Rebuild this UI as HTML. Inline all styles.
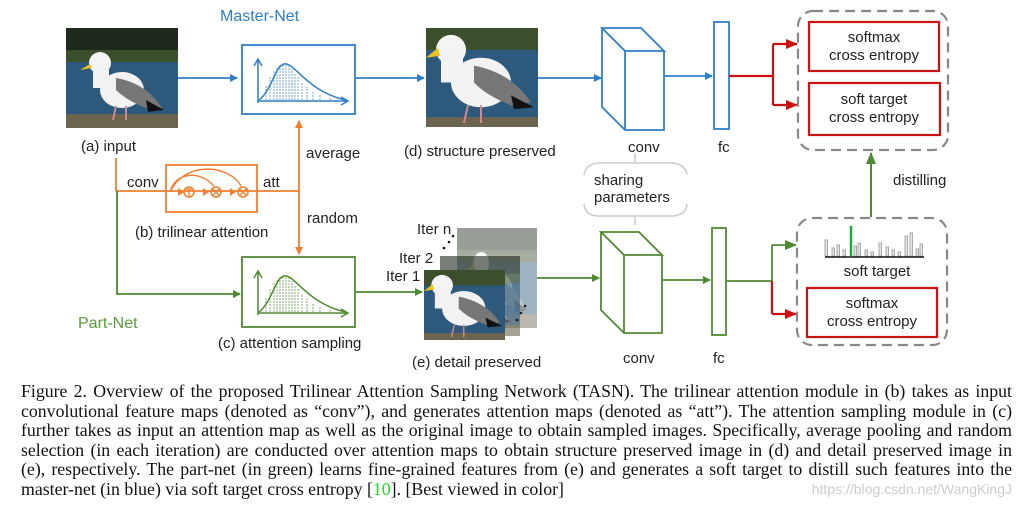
<!DOCTYPE html>
<html><head><meta charset="utf-8"><style>
html,body{margin:0;padding:0;background:#fff;width:1025px;height:516px;overflow:hidden}
svg{position:absolute;left:0;top:0}
svg text{font-family:"Liberation Sans",sans-serif;font-size:15px;fill:#222}
.cap{position:absolute;left:21px;width:991px;font-family:"Liberation Serif",serif;font-size:17.8px;color:#111;line-height:19.5px;top:382px}
.cap div{text-align:justify;text-align-last:justify;white-space:nowrap}
.cap div.l{text-align-last:left}
</style></head><body>
<svg width="1025" height="380" viewBox="0 0 1025 380">
<defs>
<symbol id="bird" viewBox="0 0 112 100" preserveAspectRatio="none">
<rect width="112" height="100" fill="#2d5a7c"/>
<rect width="112" height="30" fill="#1f2a1e"/>
<rect y="22" width="112" height="12" fill="#3b4f2c"/>
<rect y="86" width="112" height="14" fill="#6b6550"/>
<ellipse cx="56" cy="62" rx="22" ry="18" fill="#f2f2f2"/>
<circle cx="34" cy="35" r="11" fill="#f4f4f4"/>
<rect x="27" y="38" width="16" height="22" fill="#f2f2f2"/>
<polygon points="24,36 14,42 26,40" fill="#e8c020"/>
<path d="M50 50 Q80 55 96 80 L80 80 Q60 72 50 62Z" fill="#777"/>
<path d="M80 72 L98 82 L82 84Z" fill="#111"/>
<line x1="50" y1="78" x2="47" y2="92" stroke="#d08890" stroke-width="2"/>
<line x1="60" y1="78" x2="60" y2="92" stroke="#d08890" stroke-width="2"/>
</symbol>
<symbol id="bird2" viewBox="0 0 112 100" preserveAspectRatio="none">
<rect width="112" height="100" fill="#2d5a7c"/>
<rect width="112" height="22" fill="#3b4f2c"/>
<rect y="90" width="112" height="10" fill="#6b6550"/>
<ellipse cx="55" cy="55" rx="30" ry="25" fill="#f2f2f2"/>
<circle cx="25" cy="22" r="15" fill="#f4f4f4"/>
<rect x="15" y="25" width="22" height="30" fill="#f2f2f2"/>
<polygon points="12,20 0,30 14,28" fill="#e8c020"/>
<path d="M48 38 Q85 45 105 75 L85 78 Q60 68 48 55Z" fill="#777"/>
<path d="M85 68 L108 80 L88 82Z" fill="#111"/>
<line x1="42" y1="78" x2="38" y2="96" stroke="#d08890" stroke-width="2"/>
<line x1="55" y1="78" x2="55" y2="96" stroke="#d08890" stroke-width="2"/>
</symbol>
<marker id="ab" markerWidth="8" markerHeight="8" refX="7" refY="4" orient="auto" markerUnits="userSpaceOnUse"><path d="M0,0 L8,4 L0,8Z" fill="#2f7fc8"/></marker>
<marker id="ag" markerWidth="8" markerHeight="8" refX="7" refY="4" orient="auto" markerUnits="userSpaceOnUse"><path d="M0,0 L8,4 L0,8Z" fill="#4f8a32"/></marker>
<marker id="ao" markerWidth="8" markerHeight="8" refX="7" refY="4" orient="auto" markerUnits="userSpaceOnUse"><path d="M0,0 L8,4 L0,8Z" fill="#f08030"/></marker>
<marker id="ar" markerWidth="12" markerHeight="10" refX="11" refY="5" orient="auto" markerUnits="userSpaceOnUse"><path d="M0,0 L12,5 L0,10Z" fill="#cc1111"/></marker>
<marker id="ag2" markerWidth="12" markerHeight="10" refX="11" refY="5" orient="auto" markerUnits="userSpaceOnUse"><path d="M0,0 L12,5 L0,10Z" fill="#4f8a32"/></marker>
</defs>

<use href="#bird" x="66" y="28" width="112" height="100"/>
<use href="#bird2" x="426" y="28" width="112" height="99"/>
<g opacity="0.45"><use href="#bird" x="457" y="228" width="80" height="100"/></g>
<g opacity="0.6"><use href="#bird" x="440" y="256" width="80" height="80"/></g>
<use href="#bird2" x="424" y="270" width="81" height="70"/>

<text x="220" y="21" style="fill:#2f7fc8;font-size:16px">Master-Net</text>
<text x="78" y="328" style="fill:#5a9a3a;font-size:16px">Part-Net</text>
<text x="81" y="151">(a) input</text>
<text x="404" y="156">(d) structure preserved</text>
<text x="306" y="158">average</text>
<text x="307" y="223">random</text>
<text x="127" y="187">conv</text>
<text x="263" y="187">att</text>
<text x="135" y="237">(b) trilinear attention</text>
<text x="218" y="348">(c) attention sampling</text>
<text x="412" y="367">(e) detail preserved</text>
<text x="417" y="234">Iter n</text>
<text x="399" y="263">Iter 2</text>
<text x="386" y="281">Iter 1</text>
<g fill="#111"><circle cx="453" cy="236" r="1.3"/><circle cx="449" cy="242" r="1.3"/><circle cx="444" cy="248" r="1.3"/>
<circle cx="525" cy="306" r="1.3"/><circle cx="521" cy="313" r="1.3"/><circle cx="517" cy="320" r="1.3"/></g>

<g stroke="#2f7fc8" stroke-width="1.8" fill="none">
<line x1="178" y1="78" x2="237" y2="78" marker-end="url(#ab)"/>
<line x1="356" y1="78" x2="424" y2="78" marker-end="url(#ab)"/>
<line x1="538" y1="78" x2="601" y2="78" marker-end="url(#ab)"/>
<line x1="664" y1="76" x2="712" y2="76" marker-end="url(#ab)"/>
<rect x="242" y="45" width="113" height="69"/>
<path d="M602 28 L641 28 L664 51 L625 51Z M602 28 L602 107 L625 130 L664 130 L664 51 M625 51 L625 130"/>
<rect x="714" y="22" width="15" height="107"/>
<path d="M258 103 L258 60 M254 66 L258 59 L262 66 M258 101 L347 101 M341 97 L348 101 L341 105" stroke-width="1.5"/>
<path d="M259 100 C272 90 275 66 284 64 C295 62 305 90 345 100" stroke-width="1.5"/>
<path d="M266 100V85M270 100V76M274 100V70M277 100V67M280 100V65M283 100V64M286 100V64M289 100V66M292 100V69M295 100V73M298 100V77M302 100V82M307 100V87M313 100V91M320 100V94M330 100V97" stroke-width="0.7" stroke-dasharray="2,1"/>
</g>
<text x="628" y="152">conv</text>
<text x="718" y="152">fc</text>

<g stroke="#f08030" stroke-width="1.8" fill="none">
<line x1="116" y1="158" x2="116" y2="191"/>
<line x1="116" y1="191" x2="300" y2="191"/>
<line x1="299" y1="191" x2="299" y2="121" marker-end="url(#ao)"/>
<line x1="299" y1="191" x2="299" y2="254" marker-end="url(#ao)"/>
<rect x="166" y="165" width="91" height="47"/>
<circle cx="189" cy="192" r="5" stroke-width="1.5"/>
<circle cx="216" cy="192" r="5" stroke-width="1.5"/>
<circle cx="243" cy="192" r="5" stroke-width="1.5"/>
<path d="M212.5 188.5l7 7m0-7l-7 7M239.5 188.5l7 7m0-7l-7 7M186 189h6M189 189v7" stroke-width="1.3"/>
<path d="M170 192 C175 172 200 170 214 186 M170 192 C185 160 230 165 241 186" stroke-width="1.4"/>
</g>
<g fill="#f08030"><path d="M178 188l6 4-6 4z"/><path d="M203 188l6 4-6 4z"/><path d="M230 188l6 4-6 4z"/></g>

<g stroke="#4f8a32" stroke-width="1.8" fill="none">
<path d="M117 191 L117 294 L240 294" marker-end="url(#ag)"/>
<line x1="356" y1="292" x2="422" y2="292" marker-end="url(#ag)"/>
<line x1="537" y1="278" x2="599" y2="278" marker-end="url(#ag)"/>
<line x1="662" y1="280" x2="710" y2="280" marker-end="url(#ag)"/>
<rect x="242" y="257" width="113" height="70"/>
<path d="M601 232 L639 232 L662 255 L624 255Z M601 232 L601 310 L624 333 L662 333 L662 255 M624 255 L624 333"/>
<rect x="712" y="228" width="14" height="107"/>
<path d="M726 281 L772 281 M772 245 L772 281"/>
<line x1="772" y1="245" x2="796" y2="245" marker-end="url(#ag2)"/>
<line x1="871" y1="217" x2="871" y2="153" marker-end="url(#ag2)" stroke-width="2"/>
<path d="M258 315 L258 272 M254 278 L258 271 L262 278 M258 313 L347 313 M341 309 L348 313 L341 317" stroke-width="1.5"/>
<path d="M259 312 C272 302 275 278 284 276 C295 274 305 302 345 312" stroke-width="1.5"/>
<path d="M266 312V297M270 312V288M274 312V282M277 312V279M280 312V277M283 312V276M286 312V276M289 312V278M292 312V281M295 312V285M298 312V289M302 312V294M307 312V299M313 312V303M320 312V306M330 312V309" stroke-width="0.7" stroke-dasharray="2,1"/>
</g>
<text x="623" y="363">conv</text>
<text x="713" y="363">fc</text>
<text x="893" y="185">distilling</text>

<g stroke="#cc1111" stroke-width="2.2" fill="none">
<path d="M729 76 L773 76 M773 44 L773 105"/>
<line x1="773" y1="44" x2="797" y2="44" marker-end="url(#ar)"/>
<line x1="773" y1="105" x2="797" y2="105" marker-end="url(#ar)"/>
<path d="M772 281 L772 314"/>
<line x1="772" y1="314" x2="796" y2="314" marker-end="url(#ar)"/>
<rect x="809" y="22" width="130" height="49"/>
<rect x="809" y="83" width="131" height="52"/>
<rect x="807" y="288" width="130" height="49"/>
</g>
<g text-anchor="middle">
<text x="874" y="42">softmax</text><text x="874" y="60">cross entropy</text>
<text x="874" y="104">soft target</text><text x="874" y="122">cross entropy</text>
<text x="872" y="308">softmax</text><text x="872" y="326">cross entropy</text>
<text x="877" y="276">soft target</text>
</g>

<g stroke="#888" stroke-width="2.2" fill="none" stroke-dasharray="10,6">
<rect x="798" y="11" width="150" height="139" rx="15"/>
<rect x="797" y="218" width="150" height="127" rx="15"/>
</g>
<g stroke="#aaa" stroke-width="1" fill="#e4e4e4">
<rect x="825" y="240" width="2.5" height="16"/><rect x="832" y="248" width="2.5" height="8"/><rect x="837" y="245" width="2.5" height="11"/><rect x="843" y="250" width="2.5" height="6"/><rect x="854" y="246" width="2.5" height="10"/><rect x="858" y="243" width="2.5" height="13"/><rect x="865" y="250" width="2.5" height="6"/><rect x="871" y="252" width="2.5" height="4"/><rect x="879" y="243" width="2.5" height="13"/><rect x="886" y="247" width="2.5" height="9"/><rect x="892" y="250" width="2.5" height="6"/><rect x="898" y="252" width="2.5" height="4"/><rect x="905" y="236" width="2.5" height="20"/><rect x="910" y="233" width="2.5" height="23"/><rect x="916" y="249" width="2.5" height="7"/><rect x="920" y="244" width="2.5" height="12"/>
</g>
<line x1="851" y1="226" x2="851" y2="256" stroke="#1aaa44" stroke-width="2.5"/>
<line x1="825" y1="257" x2="924" y2="257" stroke="#111" stroke-width="1.5"/>

<g stroke="#ccc" stroke-width="1.5" fill="none">
<line x1="635" y1="153" x2="635" y2="162"/>
<line x1="635" y1="217" x2="635" y2="225"/>
<path d="M597 163 L673 163 Q686 165 687 175 M597 163 Q585 165 584 175 M584 204 Q585 215 597 216 L673 216 Q686 215 687 204"/>
</g>
<text x="594" y="185">sharing</text>
<text x="594" y="202">parameters</text>
</svg>
<div class="cap">
<div>Figure 2. Overview of the proposed Trilinear Attention Sampling Network (TASN). The trilinear attention module in (b) takes as input</div>
<div>convolutional feature maps (denoted as “conv”), and generates attention maps (denoted as “att”). The attention sampling module in (c)</div>
<div>further takes as input an attention map as well as the original image to obtain sampled images. Specifically, average pooling and random</div>
<div>selection (in each iteration) are conducted over attention maps to obtain structure preserved image in (d) and detail preserved image in</div>
<div>(e), respectively. The part-net (in green) learns fine-grained features from (e) and generates a soft target to distill such features into the</div>
<div class="l">master-net (in blue) via soft target cross entropy [<span style="color:#22dd22">10</span>]. [Best viewed in color]<span style="position:absolute;right:0;color:#ccc;font-family:'Liberation Sans',sans-serif;font-size:14px">https://blog.csdn.net/WangKingJ</span></div>
</div>
</body></html>
